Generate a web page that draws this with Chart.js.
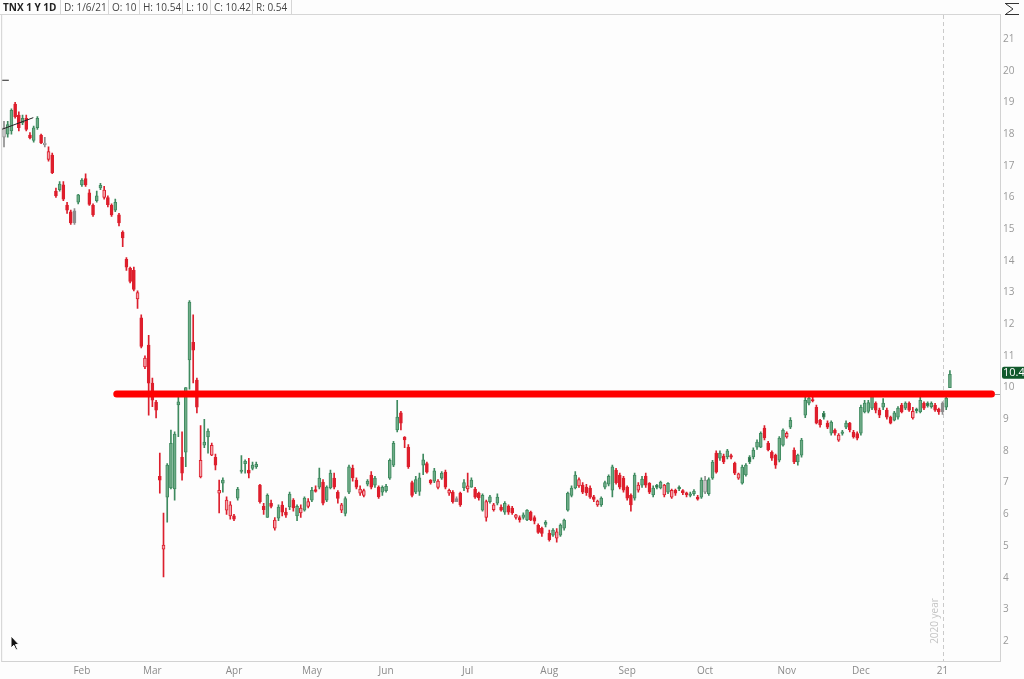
<!DOCTYPE html>
<html>
<head>
<meta charset="utf-8">
<title>TNX 1 Y 1D</title>
<script src="https://cdn.jsdelivr.net/npm/chart.js@4.4.1/dist/chart.umd.min.js"></script>
<style>
  body { margin: 0; background: #fdfdfd; font-family: "Open Sans", "Noto Sans", sans-serif; }
  .wrap { position: relative; width: 1024px; height: 679px; overflow: hidden; }
  #tnxChart { position: absolute; left: 0; top: 0; }
  .legend-row { position: absolute; left: 0; top: 0; width: 1000px; height: 14px; border-bottom: 1px solid #d6d6d6;
                display: flex; font-size: 10px; line-height: 14px; color: #444; z-index: 2; }
  .legend-row span { box-sizing: border-box; padding-left: 3px; border-right: 1px solid #d6d6d6; white-space: nowrap; overflow: hidden; }
  .legend-row .sym { font-weight: bold; color: #222; }
</style>
</head>
<body>
<div class="wrap">
  <canvas id="tnxChart" width="1024" height="679"></canvas>
  <div class="legend-row">
    <span class="sym" style="width:61px">TNX 1 Y 1D</span>
    <span style="width:48px">D: 1/6/21</span>
    <span style="width:31px">O: 10</span>
    <span style="width:43px">H: 10.54</span>
    <span style="width:28px">L: 10</span>
    <span style="width:42px">C: 10.42</span>
    <span style="width:39px">R: 0.54</span>
  </div>
</div>
<script>
// daily candles, Jan 2 2020 .. Jan 6 2021 (one line per month)
const opens = [
  17.9, 18.0, 18.1, 18.95, 18.6, 18.35, 18.5, 17.97, 17.8, 18.2, 17.97, 17.66, 17.2, 17.34, 16.2, 16.25, 16.4, 15.76, 15.55, 15.58, 15.85,
  16.4, 16.6, 16.15, 15.75, 15.9, 16.3, 16.0, 16.0, 15.75, 15.6, 15.45, 14.9, 14.05, 13.77, 13.7, 12.8, 12.2, 10.65, 11.34,
  10.14, 9.54, 7.2, 4.9, 6.54, 6.83, 6.8, 9.45, 7.8, 7.96, 10.87, 11.43, 10.24, 7.18, 8.18, 8.44, 7.87, 7.8, 6.67, 6.98, 6.13, 5.95,
  5.95, 6.51, 7.35, 7.6, 7.4, 7.45, 7.5, 6.92, 6.25, 5.9, 6.35, 5.56, 5.88, 6.29, 6.07, 6.23, 6.45, 5.95, 6.04, 6.13, 6.25,
  6.45, 6.78, 6.86, 7.02, 6.45, 6.83, 7.14, 6.7, 6.13, 6.03, 6.7, 7.46, 7.08, 6.67, 6.6, 6.95, 7.24, 6.92, 6.86, 6.7,
  6.75, 7.14, 7.55, 8.66, 9.2, 8.44, 8.12, 7.0, 6.7, 6.72, 7.55, 7.6, 7.08, 7.05, 6.85, 7.14, 7.33, 6.67, 6.7, 6.5, 6.67, 6.83,
  6.8, 6.86, 6.8, 6.67, 6.13, 5.9, 6.4, 6.15, 6.35, 6.23, 6.07, 6.26, 6.2, 5.9, 5.9, 5.9, 5.82, 6.07, 5.9, 5.65, 5.56, 5.68,
  5.4, 5.34, 5.25, 5.34, 5.56, 6.13, 6.6, 6.83, 6.9, 6.92, 6.86, 6.83, 6.55, 6.3, 6.3, 6.86, 6.95, 6.76, 7.4, 7.24, 7.14,
  6.86, 6.6, 6.51, 6.76, 6.92, 7.21, 6.98, 6.61, 6.92, 6.83, 6.61, 6.7, 6.54, 6.76, 6.86, 6.75, 6.68, 6.6, 6.65, 6.54, 6.54,
  6.7, 6.65, 7.14, 7.93, 7.77, 7.84, 7.81, 7.85, 7.62, 7.14, 6.98, 7.24, 7.81, 7.81, 8.12, 8.12, 8.72, 8.25, 7.96, 7.87, 7.71, 8.18,
  8.44, 8.75, 8.03, 7.65, 7.87, 9.13, 9.51, 9.62, 9.38, 8.97, 9.19, 8.88, 8.56, 8.66, 8.34, 8.55, 8.75, 8.88, 8.59, 8.55,
  8.56, 9.23, 9.25, 9.35, 9.51, 9.29, 9.38, 9.29, 9.07, 8.97, 9.07, 9.45, 9.35, 9.51, 9.04, 9.32, 9.23, 9.51, 9.51, 9.4, 9.45, 9.32,
  9.5, 9.38, 10.0
];
const highs = [
  18.4, 18.4, 18.8, 19.0, 18.7, 18.6, 18.6, 18.05, 18.25, 18.55, 18.0, 17.9, 17.6, 17.4, 16.3, 16.5, 16.5, 15.85, 15.6, 15.65, 16.1,
  16.6, 16.75, 16.25, 15.8, 16.2, 16.45, 16.35, 16.05, 15.8, 15.95, 15.5, 14.95, 14.1, 13.8, 13.8, 13.05, 12.3, 11.0, 11.65,
  10.3, 9.6, 7.93, 6.04, 7.6, 8.66, 8.6, 9.86, 8.6, 10.0, 12.75, 12.3, 10.3, 8.8, 9.0, 8.7, 8.25, 7.9, 7.08, 7.15, 6.55, 6.4,
  6.0, 6.85, 7.85, 7.72, 7.77, 7.65, 7.65, 6.95, 6.35, 6.65, 6.45, 5.9, 6.3, 6.4, 6.2, 6.7, 6.5, 6.3, 6.3, 6.55, 6.5,
  6.85, 6.9, 7.46, 7.1, 6.9, 7.4, 7.3, 6.75, 6.35, 6.55, 7.55, 7.55, 7.15, 6.9, 6.8, 7.1, 7.35, 7.2, 6.9, 6.9,
  6.95, 7.75, 8.3, 9.6, 9.25, 8.45, 8.2, 7.05, 7.2, 7.3, 7.9, 7.65, 7.1, 7.45, 7.1, 7.35, 7.4, 6.8, 6.75, 6.55, 6.7, 7.1,
  7.3, 7.15, 6.85, 6.7, 6.65, 6.45, 6.6, 6.35, 6.65, 6.3, 6.4, 6.3, 6.25, 6.0, 5.95, 6.05, 6.15, 6.1, 5.95, 5.7, 5.6, 5.8,
  5.5, 5.55, 5.55, 5.7, 5.85, 6.7, 6.9, 7.35, 7.15, 7.0, 6.95, 6.9, 6.6, 6.45, 6.55, 7.05, 7.25, 7.55, 7.45, 7.3, 7.2,
  6.9, 6.65, 7.3, 7.0, 7.2, 7.3, 7.0, 6.9, 6.95, 7.05, 6.95, 7.0, 6.8, 6.8, 6.9, 6.78, 6.7, 6.7, 6.78, 6.6, 7.15,
  7.2, 7.15, 7.7, 8.0, 8.0, 7.9, 8.05, 7.9, 7.65, 7.3, 7.55, 7.6, 7.85, 8.1, 8.35, 8.6, 8.8, 8.3, 8.0, 7.9, 8.45, 8.7,
  8.6, 9.05, 8.1, 7.9, 8.4, 9.7, 9.8, 9.7, 9.45, 9.0, 9.25, 8.95, 8.95, 8.7, 8.55, 8.65, 8.95, 8.9, 8.65, 8.6,
  9.45, 9.6, 9.6, 9.86, 9.55, 9.35, 9.65, 9.35, 9.1, 9.25, 9.4, 9.5, 9.55, 9.55, 9.38, 9.35, 9.7, 9.55, 9.55, 9.55, 9.5, 9.35,
  9.55, 9.75, 10.54
];
const lows = [
  17.6, 17.9, 18.0, 18.5, 18.1, 18.3, 18.1, 17.85, 17.75, 18.15, 17.7, 17.6, 17.15, 16.75, 16.0, 16.2, 15.9, 15.5, 15.15, 15.15, 15.8,
  16.35, 16.35, 15.75, 15.4, 15.85, 16.25, 15.95, 15.7, 15.4, 15.55, 15.1, 14.45, 13.7, 13.3, 13.05, 12.5, 11.25, 10.6, 9.13,
  9.4, 9.04, 6.67, 4.02, 5.75, 6.8, 6.45, 8.45, 7.08, 7.5, 9.95, 10.15, 9.2, 7.15, 8.1, 7.93, 7.85, 7.4, 6.04, 6.7, 6.0, 5.85,
  5.8, 6.45, 7.3, 7.3, 7.15, 7.4, 7.45, 6.35, 6.0, 5.9, 6.2, 5.5, 5.8, 5.95, 5.9, 6.15, 6.1, 5.8, 5.9, 6.1, 6.2,
  6.4, 6.7, 6.8, 6.3, 6.4, 6.8, 6.8, 6.35, 6.05, 5.95, 6.65, 7.05, 6.8, 6.6, 6.55, 6.9, 6.8, 6.85, 6.5, 6.6,
  6.7, 7.1, 7.5, 8.6, 8.66, 8.1, 7.45, 6.55, 6.65, 6.6, 7.25, 7.3, 6.95, 7.0, 6.8, 7.1, 6.8, 6.6, 6.35, 6.4, 6.25, 6.75,
  6.7, 6.85, 6.5, 6.45, 6.1, 5.78, 6.35, 6.1, 6.3, 6.1, 6.0, 6.0, 6.0, 5.85, 5.75, 5.85, 5.8, 5.8, 5.7, 5.4, 5.3, 5.6,
  5.15, 5.3, 5.12, 5.3, 5.5, 6.1, 6.55, 6.8, 6.85, 6.65, 6.6, 6.5, 6.4, 6.25, 6.25, 6.8, 6.9, 6.55, 6.95, 6.8, 6.7,
  6.45, 6.1, 6.45, 6.7, 6.85, 6.85, 6.65, 6.55, 6.8, 6.8, 6.55, 6.65, 6.5, 6.6, 6.75, 6.62, 6.55, 6.55, 6.6, 6.45, 6.5,
  6.65, 6.6, 7.1, 7.3, 7.7, 7.6, 7.75, 7.75, 7.25, 7.1, 6.95, 7.2, 7.6, 7.75, 8.05, 8.1, 8.35, 8.0, 7.7, 7.45, 7.65, 8.15,
  8.4, 8.7, 7.6, 7.55, 7.8, 9.05, 9.45, 9.55, 8.85, 8.75, 9.0, 8.7, 8.5, 8.5, 8.3, 8.5, 8.7, 8.6, 8.4, 8.35,
  8.5, 9.2, 9.2, 9.3, 9.2, 9.05, 9.3, 9.0, 8.85, 8.95, 9.0, 9.2, 9.3, 9.25, 9.0, 9.2, 9.2, 9.3, 9.38, 9.35, 9.25, 9.15,
  9.15, 9.3, 10.0
];
const closes = [
  18.2, 18.3, 18.75, 18.55, 18.2, 18.5, 18.15, 17.88, 18.2, 18.5, 17.72, 17.72, 17.45, 16.78, 16.05, 16.42, 15.95, 15.6, 15.2, 15.2, 16.08,
  16.55, 16.4, 15.78, 15.45, 16.05, 16.38, 16.23, 15.77, 15.45, 15.85, 15.2, 14.72, 13.8, 13.35, 13.1, 13.0, 11.3, 10.93, 10.14,
  9.6, 9.29, 7.08, 5.03, 7.55, 8.24, 8.53, 9.55, 7.3, 10.0, 12.7, 11.18, 9.38, 7.7, 8.28, 8.63, 8.18, 7.55, 6.76, 7.08, 6.45, 6.3,
  5.85, 6.8, 7.4, 7.68, 7.3, 7.55, 7.58, 6.4, 6.15, 6.6, 6.25, 5.82, 6.23, 6.07, 5.97, 6.64, 6.2, 6.25, 6.2, 6.51, 6.4,
  6.76, 6.72, 7.14, 6.35, 6.86, 7.3, 6.86, 6.5, 6.3, 6.5, 7.5, 7.15, 6.86, 6.8, 6.75, 7.05, 6.86, 7.14, 6.55, 6.85,
  6.88, 7.7, 8.24, 9.07, 8.88, 8.35, 7.5, 6.6, 7.1, 7.15, 7.72, 7.33, 7.0, 7.37, 7.05, 7.3, 6.86, 6.76, 6.4, 6.4, 6.3, 7.0,
  6.9, 7.08, 6.54, 6.52, 6.6, 6.4, 6.55, 6.3, 6.54, 6.13, 6.35, 6.07, 6.04, 5.98, 5.82, 5.98, 6.13, 5.82, 5.78, 5.43, 5.4, 5.75,
  5.2, 5.5, 5.45, 5.66, 5.82, 6.67, 6.83, 7.24, 7.1, 6.7, 6.68, 6.54, 6.47, 6.42, 6.51, 7.0, 7.2, 7.5, 7.0, 6.86, 6.76,
  6.51, 6.3, 7.24, 6.92, 7.11, 6.92, 6.7, 6.83, 6.85, 7.02, 6.92, 6.98, 6.76, 6.67, 6.8, 6.68, 6.62, 6.65, 6.73, 6.48, 7.08,
  7.08, 7.1, 7.65, 7.33, 7.93, 7.65, 8.0, 7.8, 7.3, 7.28, 7.49, 7.55, 7.65, 8.03, 8.28, 8.56, 8.41, 8.03, 7.77, 7.55, 8.41, 8.66,
  8.56, 8.97, 7.65, 7.87, 8.34, 9.6, 9.67, 9.58, 8.88, 8.82, 9.07, 8.75, 8.91, 8.56, 8.5, 8.6, 8.88, 8.66, 8.44, 8.4,
  9.38, 9.51, 9.53, 9.76, 9.29, 9.13, 9.51, 9.07, 8.88, 9.2, 9.35, 9.23, 9.51, 9.29, 9.25, 9.27, 9.6, 9.35, 9.42, 9.5, 9.29, 9.23,
  9.23, 9.67, 10.42
];

const firstDay = '2020-01-02';
const holidays = ['2020-01-20', '2020-02-17', '2020-04-10', '2020-05-25', '2020-07-03',
                  '2020-09-07', '2020-11-26', '2020-12-25', '2021-01-01'];
const monthNames = ['Jan', 'Feb', 'Mar', 'Apr', 'May', 'Jun', 'Jul', 'Aug', 'Sep', 'Oct', 'Nov', 'Dec'];
const yTicks = [2, 3, 4, 5, 6, 7, 8, 9, 10, 11, 12, 13, 14, 15, 16, 17, 18, 19, 20, 21];
const emptySlots = 13;          // room right of the last candle

const resistance = 9.8;          // the red level
const resFrom = 30.4, resTo = 266.2;
const trendX = [-0.6, 7.9], trendY = [18.15, 18.52];
const markX = [-0.6, 1.3], markY = [19.7, 19.7];

// trading days
const days = [];
let d = new Date(firstDay + 'T00:00:00Z');
while (days.length < closes.length) {
  const iso = d.toISOString().slice(0, 10);
  const wd = d.getUTCDay();
  if (wd !== 0 && wd !== 6 && !holidays.includes(iso)) days.push(iso);
  d.setUTCDate(d.getUTCDate() + 1);
}
const slots = days.concat(new Array(emptySlots).fill(''));

let yearStart = 0;
const tickText = slots.map((s, i) => {
  if (!s || i === 0) return '';
  if (s.slice(5, 7) === days[i - 1].slice(5, 7)) return '';
  const m = +s.slice(5, 7) - 1;
  if (m === 0) { yearStart = i; return s.slice(2, 4); }
  return monthNames[m];
});

const wickData = [], bodyData = [], edgeColors = [], fillColors = [];
closes.forEach((c, i) => {
  const o = opens[i];
  const prev = i > 0 ? closes[i - 1] : c;
  const hollow = c > o;
  let edge, fill;
  if (c > prev) { edge = '#3e8a5f'; fill = hollow ? '#6fab87' : '#2a6c45'; }
  else if (c < prev) { edge = '#dc1f2d'; fill = hollow ? '#f3a4ab' : '#e01e2c'; }
  else { edge = '#8c8c8c'; fill = hollow ? '#cfcfcf' : '#8c8c8c'; }
  wickData.push([lows[i], highs[i]]);
  bodyData.push([Math.min(o, c), Math.max(o, c)]);
  edgeColors.push(edge);
  fillColors.push(fill);
});

const decor = {
  id: 'decor',
  beforeDatasetsDraw(chart) {
    const { ctx, chartArea: a, scales } = chart;
    const yx = Math.round(scales.x.getPixelForValue(yearStart)) + 0.5;
    ctx.save();
    ctx.strokeStyle = '#cacaca';
    ctx.lineWidth = 1;
    ctx.setLineDash([4, 3]);
    ctx.beginPath();
    ctx.moveTo(yx, a.top);
    ctx.lineTo(yx, a.bottom);
    ctx.stroke();
    ctx.setLineDash([]);
    ctx.translate(yx - 8, a.bottom - 40);
    ctx.rotate(-Math.PI / 2);
    ctx.fillStyle = '#c4c4c4';
    ctx.font = '10px "Open Sans"';
    ctx.textAlign = 'center';
    ctx.textBaseline = 'middle';
    ctx.fillText('2020 year', 0, 0);
    ctx.restore();
  },
  afterDraw(chart) {
    const { ctx, chartArea: a, scales } = chart;
    ctx.save();
    // frame
    ctx.strokeStyle = '#d2d2d2';
    ctx.lineWidth = 1;
    ctx.strokeRect(a.left - 0.5, a.top - 0.5, a.right - a.left + 1, a.bottom - a.top + 1);
    // level marker on the price axis
    const ry = Math.round(scales.y.getPixelForValue(resistance)) + 0.5;
    ctx.strokeStyle = '#9a9a9a';
    ctx.beginPath();
    ctx.moveTo(a.right - 5, ry); ctx.lineTo(a.right, ry);
    ctx.stroke();
    // last price tag
    const last = closes[closes.length - 1];
    const py = scales.y.getPixelForValue(last) - 1.5;
    ctx.fillStyle = '#11592c';
    ctx.beginPath();
    ctx.roundRect(a.right + 2, py - 6, 32, 12, 2);
    ctx.fill();
    ctx.fillStyle = '#ffffff';
    ctx.font = '11px "Open Sans"';
    ctx.textBaseline = 'middle';
    ctx.fillText(last.toFixed(2), a.right + 3, py + 0.5);
    // scale icon
    ctx.strokeStyle = '#333';
    ctx.beginPath();
    ctx.moveTo(1005, 3.5); ctx.lineTo(1019, 3.5);
    ctx.moveTo(1006, 4); ctx.lineTo(1013, 9); ctx.lineTo(1006, 14);
    ctx.moveTo(1005, 14.5); ctx.lineTo(1019, 14.5);
    ctx.stroke();
    // mouse pointer
    ctx.fillStyle = '#111';
    ctx.strokeStyle = '#fff';
    ctx.beginPath();
    ctx.moveTo(11, 636); ctx.lineTo(11, 648); ctx.lineTo(13.8, 645.3); ctx.lineTo(16, 650);
    ctx.lineTo(17.6, 649.3); ctx.lineTo(15.5, 644.6); ctx.lineTo(19, 644.6); ctx.closePath();
    ctx.fill();
    ctx.stroke();
    ctx.restore();
  }
};

Chart.defaults.font.family = '"Open Sans", "Noto Sans", sans-serif';

const tnxChart = new Chart(document.getElementById('tnxChart'), {
  type: 'bar',
  data: {
    labels: slots,
    datasets: [
      {
        label: 'wick', data: wickData, xAxisID: 'x', yAxisID: 'y',
        backgroundColor: edgeColors, barThickness: 1, grouped: false, order: 3
      },
      {
        label: 'body', data: bodyData, xAxisID: 'x', yAxisID: 'y',
        backgroundColor: fillColors, borderColor: edgeColors, borderWidth: 1, borderSkipped: false,
        barThickness: 3, minBarLength: 1, grouped: false, order: 2
      },
      {
        type: 'line', label: 'level', xAxisID: 'xi', yAxisID: 'y',
        data: [{ x: resFrom, y: resistance }, { x: resTo, y: resistance }],
        borderColor: '#ff0000', borderWidth: 7, borderCapStyle: 'round', pointRadius: 0, order: 0
      },
      {
        type: 'line', label: 'trend', xAxisID: 'xi', yAxisID: 'y',
        data: trendX.map((x, i) => ({ x, y: trendY[i] })),
        borderColor: '#222', borderWidth: 1, pointRadius: 0, order: 1
      },
      {
        type: 'line', label: 'mark', xAxisID: 'xi', yAxisID: 'y',
        data: markX.map((x, i) => ({ x, y: markY[i] })),
        borderColor: '#222', borderWidth: 1, pointRadius: 0, order: 1
      }
    ]
  },
  options: {
    responsive: false,
    animation: false,
    events: [],
    layout: { padding: { left: 2, top: 15, right: 0, bottom: 0 } },
    plugins: { legend: { display: false }, tooltip: { enabled: false } },
    scales: {
      x: {
        type: 'category',
        offset: true,
        grid: { display: false, drawTicks: false },
        border: { display: false },
        ticks: {
          autoSkip: false, maxRotation: 0, minRotation: 0, padding: 4,
          color: '#8a8a8a', font: { size: 10 },
          callback: (val, i) => tickText[i]
        },
        afterFit: axis => { axis.height = 18; }
      },
      xi: {
        type: 'linear', display: false, offset: false,
        min: -0.5, max: slots.length - 0.5
      },
      y: {
        position: 'right',
        min: 1.37, max: 21.76,
        grid: { display: false, drawTicks: false },
        border: { display: false },
        ticks: { color: '#999', font: { size: 10 }, padding: 3 },
        afterBuildTicks: axis => { axis.ticks = yTicks.map(v => ({ value: v })); },
        afterFit: axis => { axis.width = 24; }
      }
    }
  },
  plugins: [decor]
});
</script>
</body>
</html>
